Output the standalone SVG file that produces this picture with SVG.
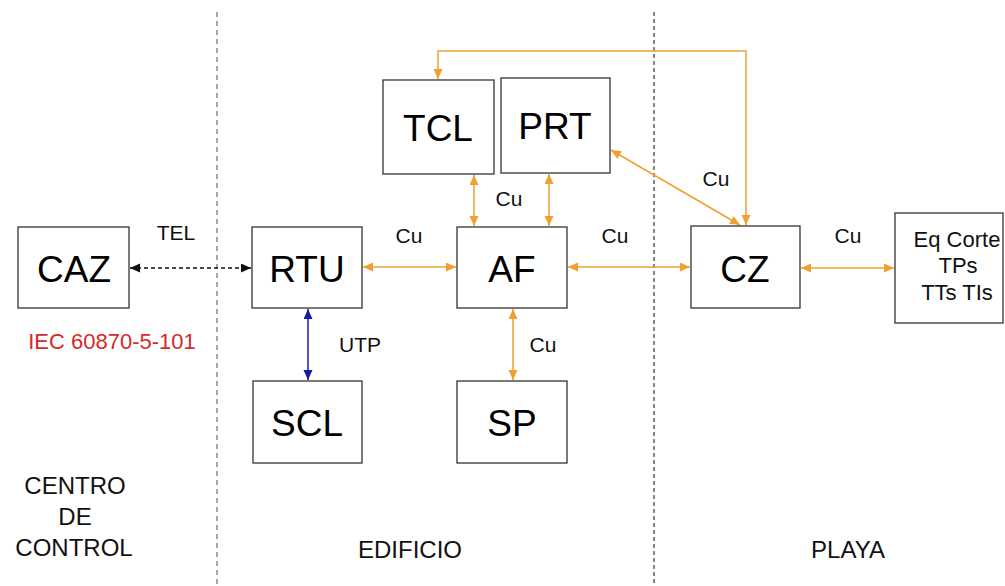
<svg xmlns="http://www.w3.org/2000/svg" width="1005" height="586" viewBox="0 0 1005 586">
<style>
  .box { fill: #ffffff; stroke: #333333; stroke-width: 1.3; }
  .big { font-family: "Liberation Sans", Arial, sans-serif; font-size: 37px; fill: #000; text-anchor: middle; }
  .lbl { font-family: "Liberation Sans", Arial, sans-serif; font-size: 21px; fill: #111; text-anchor: middle; }
  .zone { font-family: "Liberation Sans", Arial, sans-serif; font-size: 24px; fill: #111; text-anchor: middle; }
  .eq { font-family: "Liberation Sans", Arial, sans-serif; font-size: 22px; fill: #111; text-anchor: middle; }
  .cu { fill: none; stroke: #f0a030; stroke-width: 1.5; marker-start: url(#ao); marker-end: url(#ao); }
  .utp { fill: none; stroke: #1a1aa8; stroke-width: 1.5; marker-start: url(#ab); marker-end: url(#ab); }
  .tel { fill: none; stroke: #111; stroke-width: 1.3; stroke-dasharray: 4 3; marker-start: url(#ak); marker-end: url(#ak); }
  .div1 { stroke: #777; stroke-width: 1.3; stroke-dasharray: 5 4; }
  .div2 { stroke: #222; stroke-width: 1.1; stroke-dasharray: 4 3; }
</style>
<defs>
  <marker id="ao" markerUnits="userSpaceOnUse" markerWidth="11" markerHeight="10" refX="10" refY="4.5" orient="auto-start-reverse">
    <path d="M0,0 L10,4.5 L0,9 z" fill="#f0a030"/>
  </marker>
  <marker id="ab" markerUnits="userSpaceOnUse" markerWidth="11" markerHeight="10" refX="10" refY="4.5" orient="auto-start-reverse">
    <path d="M0,0 L10,4.5 L0,9 z" fill="#1a1aa8"/>
  </marker>
  <marker id="ak" markerUnits="userSpaceOnUse" markerWidth="11" markerHeight="10" refX="10" refY="4.5" orient="auto-start-reverse">
    <path d="M0,0 L10,4.5 L0,9 z" fill="#111"/>
  </marker>
</defs>
<rect x="0" y="0" width="1005" height="586" fill="#ffffff"/>

<g id="dividers">
  <line class="div1" x1="217" y1="12" x2="217" y2="586"/>
  <line class="div2" x1="654" y1="12" x2="654" y2="586"/>
</g>

<g id="connectors">
  <line class="tel" x1="130" y1="268" x2="251" y2="268"/>
  <line class="cu" x1="363" y1="267" x2="456" y2="267"/>
  <line class="cu" x1="568" y1="267" x2="690" y2="267"/>
  <line class="cu" x1="801" y1="268" x2="894" y2="268"/>
  <line class="cu" x1="474" y1="175" x2="474" y2="226"/>
  <line class="cu" x1="549" y1="174" x2="549" y2="226"/>
  <line class="cu" x1="513" y1="309" x2="513" y2="380"/>
  <line class="utp" x1="308" y1="309" x2="308" y2="380"/>
  <line class="cu" x1="611" y1="150" x2="740" y2="225"/>
  <path class="cu" d="M438,79 V51 H746 V225"/>
  <text class="lbl" x="176" y="240">TEL</text>
  <text class="lbl" x="409" y="243">Cu</text>
  <text class="lbl" x="615" y="243">Cu</text>
  <text class="lbl" x="848" y="243">Cu</text>
  <text class="lbl" x="509" y="206">Cu</text>
  <text class="lbl" x="716" y="186">Cu</text>
  <text class="lbl" x="360" y="352">UTP</text>
  <text class="lbl" x="543" y="352">Cu</text>
</g>

<g id="CAZ">
  <rect class="box" x="18" y="227" width="111" height="81"/>
  <text class="big" x="74" y="282">CAZ</text>
</g>
<text id="IEC" x="112" y="349" font-family="Liberation Sans, Arial, sans-serif" font-size="22" fill="#d42a2a" text-anchor="middle">IEC 60870-5-101</text>

<g id="RTU">
  <rect class="box" x="252" y="227" width="110" height="81"/>
  <text class="big" x="307" y="282">RTU</text>
</g>
<g id="SCL">
  <rect class="box" x="253" y="381" width="109" height="82"/>
  <text class="big" x="307" y="436">SCL</text>
</g>
<g id="TCL">
  <rect class="box" x="383" y="80" width="111" height="94"/>
  <text class="big" x="438" y="141">TCL</text>
</g>
<g id="PRT">
  <rect class="box" x="501" y="78" width="109" height="95"/>
  <text class="big" x="555" y="139">PRT</text>
</g>
<g id="AF">
  <rect class="box" x="457" y="227" width="110" height="81"/>
  <text class="big" x="512" y="282">AF</text>
</g>
<g id="SP">
  <rect class="box" x="457" y="381" width="110" height="82"/>
  <text class="big" x="512" y="436">SP</text>
</g>
<g id="CZ">
  <rect class="box" x="691" y="226" width="109" height="82"/>
  <text class="big" x="745" y="282">CZ</text>
</g>
<g id="EQ">
  <rect class="box" x="895" y="213" width="108" height="110"/>
  <text class="eq" x="957" y="247">Eq Corte</text>
  <text class="eq" x="958" y="273">TPs</text>
  <text class="eq" x="957" y="300">TTs TIs</text>
</g>

<g id="zones">
  <text class="zone" x="75" y="494">CENTRO</text>
  <text class="zone" x="75" y="525">DE</text>
  <text class="zone" x="74" y="556">CONTROL</text>
  <text class="zone" x="410" y="558">EDIFICIO</text>
  <text class="zone" x="848" y="558">PLAYA</text>
</g>
</svg>
